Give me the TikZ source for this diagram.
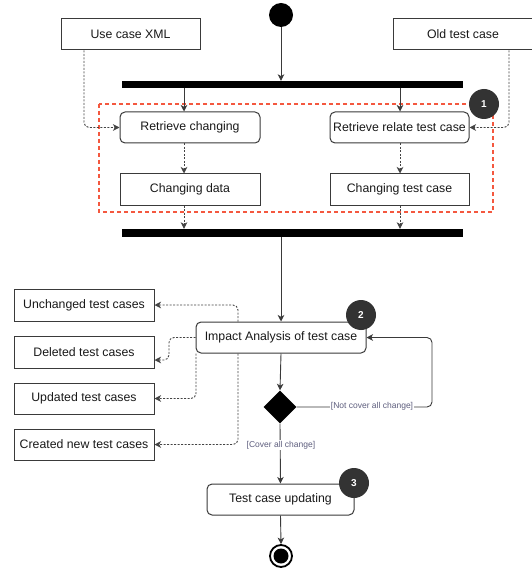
\documentclass[tikz,border=0pt]{standalone}
\usepackage{fontspec}
\setmainfont{Liberation Sans}
\usetikzlibrary{arrows.meta,shapes.geometric,calc}
\definecolor{edge}{HTML}{3A3A3A}
\definecolor{dotc}{HTML}{444444}
\definecolor{redd}{HTML}{F4583F}
\definecolor{badgec}{HTML}{333333}
\definecolor{lblc}{HTML}{5E5E7E}
\tikzset{
  boxtxt/.style={font=\fontsize{12.3}{14}\selectfont, text=black!90},
  plainbox/.style={draw=edge, line width=1pt, fill=white, boxtxt, inner sep=0pt},
  roundbox/.style={plainbox, rounded corners=5pt},
  barnode/.style={fill=black, draw=none, inner sep=0pt, minimum width=341pt},
  badge/.style={circle, fill=badgec, draw=none, minimum size=30pt, inner sep=0pt, text=white, font=\bfseries\fontsize{10}{12}\selectfont},
  arr/.style={draw=edge, line width=0.9pt, -{Stealth[length=6.5pt,width=6.5pt,inset=1.8pt]}},
  dotarr/.style={draw=dotc, line width=0.9pt, dash pattern=on 2pt off 1.5pt, rounded corners=5pt, -{Stealth[length=6.5pt,width=6.5pt,inset=1.8pt]}},
  lbl/.style={font=\fontsize{8.5}{10}\selectfont, text=lblc, fill=white, inner sep=1pt},
}
\begin{document}
\begin{tikzpicture}[x=1pt,y=-1pt]
\useasboundingbox (0,0) rectangle (531,569);
\fill[white] (0,0) rectangle (531,569);

% red dashed group
\draw[redd, line width=1.2pt, dash pattern=on 4pt off 3pt] (99,104) rectangle (493,212);

% start
\node[circle, fill=black, minimum size=24pt, inner sep=0pt] (start) at (281,15) {};

% inputs
\node[plainbox, minimum width=139pt, minimum height=31pt] (uc) at (130.5,34.5) {Use case XML};
\node[plainbox, minimum width=140pt, minimum height=31pt] (old) at (463,34.5) {Old test case};

% bars
\node[barnode, minimum height=7pt] (bar1) at (292.5,84.5) {};
\node[barnode, minimum height=8pt] (bar2) at (292.5,233) {};

% group 1 nodes
\node[roundbox, minimum width=140pt, minimum height=31pt] (rc) at (190,127.5) {Retrieve changing};
\node[roundbox, minimum width=139pt, minimum height=31pt] (rr) at (399.5,127.5) {Retrieve relate test case};
\node[plainbox, minimum width=140pt, minimum height=31pt] (cd) at (190,189.5) {Changing data};
\node[plainbox, minimum width=139pt, minimum height=31pt] (ct) at (399.5,189.5) {Changing test case};

\coordinate (lx) at (184,0);
\coordinate (rx) at (400,0);
\coordinate (ucx) at (84,0);
\coordinate (oldx) at (509,0);

% impact
\node[roundbox, minimum width=170pt, minimum height=31pt] (impact) at (281,337.5) {Impact Analysis of test case};

% outcome boxes
\node[plainbox, minimum width=140pt, minimum height=32pt] (unch) at (84,305) {Unchanged test cases};
\node[plainbox, minimum width=140pt, minimum height=32pt] (del) at (84,352) {Deleted test cases};
\node[plainbox, minimum width=140pt, minimum height=31pt] (upd) at (84,398.5) {Updated test cases};
\node[plainbox, minimum width=140pt, minimum height=31pt] (cre) at (84,444.5) {Created new test cases};

% decision
\node[diamond, fill=black, minimum width=33pt, minimum height=33pt, inner sep=0pt] (dec) at (280,407) {};

% update
\node[roundbox, minimum width=147pt, minimum height=31pt] (tcu) at (280.5,499.5) {Test case updating};

% end
\node[circle, draw=black, line width=1.8pt, fill=white, minimum size=22pt, inner sep=0pt] (endo) at (281,556) {};
\node[circle, fill=black, minimum size=15pt, inner sep=0pt] (endi) at (endo.center) {};

% solid connectors
\draw[arr] (start.south) -- (bar1.north -| start);
\draw[arr] (bar1.south -| lx) -- (rc.north -| lx);
\draw[arr] (bar1.south -| rx) -- (rr.north -| rx);
\draw[arr] (bar2.south -| impact) -- (impact.north);
\draw[arr] (impact.south) -- (dec.north);
\draw[arr] (dec.south) -- (tcu.north);
\draw[arr] (tcu.south) -- (endo.north);
\coordinate (loopc) at (432,0);
\draw[arr, rounded corners=5pt] (dec.east) -- (dec.east -| loopc) -- (impact.east -| loopc) -- (impact.east);
\node[lbl] (nlab) at (372,406) {[Not cover all change]};
\node[lbl] (clab) at (281,445) {[Cover all change]};

% dotted connectors
\draw[dotarr] (uc.south -| ucx) |- (rc.west);
\draw[dotarr] (old.south -| oldx) |- (rr.east);
\draw[dotarr] (rc.south -| lx) -- (cd.north -| lx);
\draw[dotarr] (rr.south -| rx) -- (ct.north -| rx);
\draw[dotarr] (cd.south -| lx) -- (bar2.north -| lx);
\draw[dotarr] (ct.south -| rx) -- (bar2.north -| rx);

\coordinate (ax) at (238,0);
\coordinate (bx) at (169,0);
\coordinate (cx) at (196,0);
\coordinate (dely) at (0,360);
\draw[dotarr] (impact.north -| ax) |- (unch.east);
\draw[dotarr] (impact.west) -- (impact.west -| bx) -- (dely -| bx) -- (dely -| del.east);
\draw[dotarr] (impact.south -| cx) |- (upd.east);
\draw[dotarr] (impact.south -| ax) |- (cre.east);

% badges
\node[badge] (b1) at (484,104) {1};
\node[badge] (b2) at (361,315) {2};
\node[badge] (b3) at (354,483) {3};
\end{tikzpicture}
\end{document}
